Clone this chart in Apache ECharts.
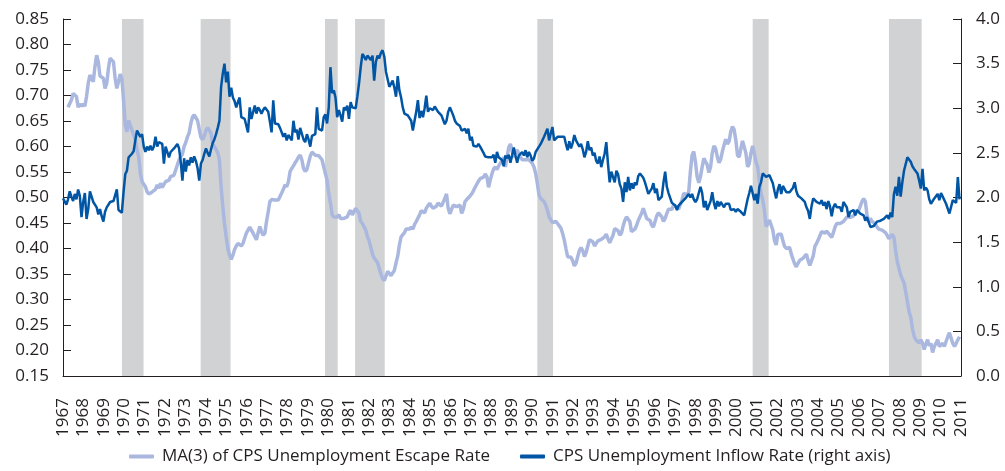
<!DOCTYPE html>
<html>
<head>
<meta charset="utf-8">
<script src="https://cdn.jsdelivr.net/npm/echarts@6/dist/echarts.min.js"></script>
<style>
html,body{margin:0;padding:0;background:#fff;}
#chart{width:1005px;height:471px;}
</style>
</head>
<body>
<div id="chart"></div>
<script>
// Year tick labels (category labels along the bottom)
const yearLabels = ['1967','1968','1969','1970','1971','1972','1973','1974','1975','1976','1977','1978','1979','1980','1981','1982','1983','1984','1985','1986','1987','1988','1989','1990','1991','1992','1993','1994','1995','1996','1997','1998','1999','2000','2001','2002','2003','2004','2005','2006','2007','2008','2009','2010','2011'];

// Monthly series; dark starts Jan 1967, light (3-month MA) starts Apr 1967
const startYear = 1967;
const escapeStartMonth = 3;
const inflowStartMonth = 0;

const escapeRateMA3 = [
0.677,0.678,0.691,0.704,0.707,0.698,0.677,0.683,0.679,0.683,
0.679,0.698,0.724,0.740,0.742,0.727,0.757,0.779,0.766,0.738,
0.740,0.734,0.714,0.724,0.753,0.773,0.770,0.766,0.734,0.714,
0.727,0.742,0.734,0.691,0.642,0.629,0.651,0.649,0.632,0.623,
0.613,0.593,0.580,0.547,0.531,0.528,0.521,0.511,0.507,0.505,
0.511,0.508,0.516,0.525,0.518,0.528,0.520,0.523,0.531,0.529,
0.534,0.541,0.541,0.544,0.554,0.564,
0.574,0.580,0.585,0.600,0.608,0.619,0.627,0.645,0.658,0.662,
0.660,0.651,0.634,0.618,0.613,0.621,0.631,0.637,0.638,0.626,
0.605,0.600,0.598,0.588,0.574,0.521,0.482,0.449,0.423,0.400,
0.387,0.379,0.387,0.398,0.405,0.410,0.407,0.405,0.410,0.420,
0.430,0.436,0.442,0.443,0.430,0.433,0.417,0.431,0.443,0.433,
0.426,0.430,0.453,0.472,0.492,0.496,0.494,0.495,0.498,0.495,
0.502,0.509,0.516,0.525,0.521,0.531,0.551,0.557,0.562,
0.568,0.573,0.579,0.583,0.574,0.557,0.551,0.555,0.568,0.581,
0.589,0.588,0.583,0.583,0.582,0.580,0.574,0.560,0.547,0.534,
0.508,0.489,0.466,0.462,0.464,0.462,0.466,0.459,0.456,0.459,
0.459,0.462,0.470,0.475,0.466,0.472,0.479,0.479,0.469,0.453,
0.449,0.448,0.436,0.423,0.415,0.402,0.389,0.381,0.377,0.372,
0.361,0.350,0.341,0.337,0.346,0.355,0.357,0.347,0.347,0.357,
0.372,0.385,0.407,0.423,0.426,0.431,0.438,0.440,
0.438,0.442,0.438,0.447,0.453,0.455,0.466,0.474,0.474,0.470,
0.479,0.482,0.489,0.483,0.479,0.482,0.483,0.489,0.491,0.483,
0.483,0.498,0.507,0.479,0.468,0.469,0.485,0.487,0.482,0.483,
0.485,0.469,0.477,0.492,0.496,0.498,0.503,0.507,0.513,0.520,
0.526,0.532,0.537,0.534,0.540,0.546,0.541,0.520,0.534,0.546,
0.556,0.560,0.555,0.562,0.567,0.572,0.579,0.560,0.580,0.598,
0.605,0.592,0.579,0.589,0.593,0.590,0.579,0.574,
0.574,0.574,0.575,0.574,0.572,0.567,0.560,0.547,0.528,0.505,
0.498,0.495,0.492,0.485,0.475,0.462,0.456,0.451,0.453,0.453,
0.449,0.446,0.440,0.430,0.417,0.400,0.384,0.384,0.383,0.376,
0.366,0.371,0.384,0.396,0.402,0.396,0.384,0.392,0.405,0.417,
0.419,0.413,0.405,0.410,0.415,0.417,0.418,0.417,0.423,0.428,
0.419,0.411,0.410,0.426,0.439,0.442,0.435,0.426,0.430,0.444,
0.455,0.462,0.461,0.453,0.433,0.431,0.438,0.445,0.455,
0.457,0.469,0.479,0.469,0.459,0.458,0.455,0.446,0.442,0.453,
0.464,0.470,0.470,0.462,0.453,0.459,0.469,0.477,0.477,0.477,
0.485,0.486,0.481,0.477,0.479,0.495,0.508,0.511,0.505,0.511,
0.551,0.583,0.590,0.570,0.541,0.529,0.541,0.560,0.577,0.577,
0.564,0.549,0.560,0.587,0.601,0.596,0.580,0.568,0.575,0.590,
0.603,0.614,0.605,0.610,0.629,0.639,0.633,0.613,0.583,0.579,
0.596,0.611,0.608,0.587,0.560,0.566,0.587,0.601,
0.587,0.570,0.560,0.534,0.508,0.495,0.475,0.443,0.449,0.456,
0.455,0.436,0.415,0.407,0.428,0.426,0.428,0.415,0.404,0.400,
0.400,0.402,0.389,0.379,0.370,0.364,0.371,0.377,0.374,0.381,
0.384,0.389,0.376,0.367,0.364,0.385,0.404,0.410,0.417,0.425,
0.433,0.436,0.430,0.434,0.435,0.426,0.422,0.431,0.442,0.449,
0.451,0.449,0.446,0.453,0.457,0.462,0.464,0.461,0.459,0.464,
0.469,0.469,0.474,0.483,0.492,0.498,0.492,0.466,0.451,
0.459,0.453,0.453,0.448,0.442,0.438,0.439,0.436,0.435,0.431,
0.426,0.419,0.419,0.428,0.422,0.396,0.374,0.361,0.348,0.340,
0.333,0.315,0.296,0.276,0.265,0.243,0.228,0.221,0.221,0.215,
0.221,0.214,0.202,0.213,0.221,0.209,0.214,0.196,0.208,0.214,
0.221,0.208,0.208,0.214,0.208,0.209,0.227,0.235,0.232,0.214,
0.208,0.214,0.221,0.227
];

const inflowRate = [
1.99,1.97,1.92,1.98,2.07,2.01,1.96,2.04,1.98,2.09,
2.02,1.78,1.95,2.05,1.76,1.87,2.07,2.01,1.95,1.97,
1.89,1.81,1.87,1.79,1.73,1.84,1.89,1.91,1.95,1.93,
1.96,1.94,2.09,1.86,1.84,1.83,2.06,2.26,2.30,2.45,
2.47,2.49,2.52,2.64,2.75,2.73,2.68,2.71,2.57,2.51,
2.57,2.53,2.58,2.53,2.57,2.68,2.57,2.62,2.60,2.60,
2.38,2.57,2.51,2.45,2.51,2.49,2.55,2.53,2.60,
2.55,2.40,2.19,2.44,2.29,2.42,2.36,2.45,2.39,2.46,
2.41,2.33,2.19,2.38,2.42,2.49,2.55,2.50,2.46,2.54,
2.61,2.65,2.71,2.78,2.86,3.24,3.39,3.50,3.29,3.41,
3.13,3.23,3.12,3.08,3.01,3.07,3.12,2.90,2.92,2.88,
2.90,2.73,3.01,2.88,2.86,3.03,2.94,3.01,2.98,2.94,
2.98,3.01,3.02,2.96,2.85,2.73,3.09,2.83,2.85,2.82,
2.78,2.76,2.68,2.72,2.64,2.70,2.70,2.64,2.86,
2.73,2.76,2.65,2.78,2.76,2.65,2.62,2.71,2.65,2.57,
2.69,2.68,2.71,3.01,2.77,2.77,2.75,2.90,2.93,2.83,
3.01,3.46,3.17,3.20,3.12,2.90,2.98,2.92,2.85,3.01,
2.98,3.03,2.88,3.07,3.01,3.02,3.00,3.13,3.28,3.46,
3.61,3.58,3.54,3.59,3.61,3.54,3.59,3.31,3.52,3.59,
3.56,3.62,3.65,3.58,3.41,3.42,3.24,3.22,3.31,3.23,
3.13,3.36,3.20,3.12,3.01,2.94,2.92,2.92,
2.93,2.86,2.75,2.86,2.96,3.09,2.89,2.97,2.90,3.00,
3.14,2.96,3.00,2.98,2.98,3.02,3.02,2.96,2.97,2.92,
2.90,2.82,2.86,2.96,3.01,3.00,2.92,2.86,2.83,2.82,
2.80,2.75,2.75,2.77,2.72,2.77,2.64,2.68,2.58,2.60,
2.57,2.60,2.57,2.55,2.50,2.46,2.44,2.45,2.44,2.45,
2.48,2.39,2.51,2.45,2.46,2.42,2.35,2.47,2.44,2.48,
2.39,2.47,2.56,2.47,2.39,2.47,2.49,2.51,
2.47,2.53,2.45,2.51,2.47,2.41,2.44,2.51,2.53,2.57,
2.60,2.64,2.68,2.66,2.77,2.64,2.72,2.79,2.64,2.66,
2.68,2.70,2.68,2.70,2.68,2.60,2.53,2.63,2.55,2.61,
2.70,2.64,2.62,2.57,2.60,2.54,2.45,2.51,2.63,2.53,
2.56,2.47,2.50,2.41,2.38,2.46,2.34,2.42,2.49,2.62,
2.38,2.17,2.29,2.27,2.17,2.30,2.26,2.15,2.10,1.95,
2.17,2.06,2.23,2.08,2.16,2.10,2.17,2.14,2.24,
2.27,2.27,2.22,2.17,2.16,2.04,2.04,2.10,2.16,2.05,
2.10,1.97,1.96,2.01,2.17,2.29,2.12,2.05,2.04,1.94,
1.95,1.91,1.86,1.91,1.91,1.95,1.97,1.99,1.99,2.04,
2.00,2.04,1.98,1.95,1.98,1.96,2.12,2.05,1.89,1.96,
1.86,1.86,1.96,2.06,1.94,1.87,1.96,1.90,1.95,1.92,
1.89,1.93,1.95,1.93,1.86,1.84,1.87,1.84,1.87,1.86,
1.84,1.82,1.80,1.82,1.98,2.05,2.13,2.05,
1.97,2.04,1.93,2.12,2.17,2.27,2.27,2.23,2.25,2.25,
2.27,2.16,2.07,1.99,2.09,2.15,2.04,2.13,2.15,2.06,
2.06,2.06,2.04,2.11,2.17,2.07,2.02,2.01,1.99,1.97,
1.95,1.89,1.85,1.76,1.90,1.99,2.01,1.95,1.97,1.93,
1.97,1.91,1.95,1.87,1.96,1.90,1.79,1.89,1.93,1.89,
1.91,1.89,1.84,1.95,1.97,1.89,1.78,1.84,1.82,1.86,
1.80,1.86,1.87,1.82,1.80,1.80,1.74,1.78,1.76,
1.67,1.65,1.68,1.70,1.73,1.71,1.74,1.74,1.76,1.77,
1.80,1.76,1.83,1.78,2.04,2.12,2.02,2.23,2.01,2.17,
2.30,2.30,2.45,2.45,2.40,2.35,2.32,2.30,2.27,2.19,
2.10,2.32,2.08,2.11,2.08,1.98,1.93,1.93,1.99,2.01,
2.04,1.97,2.05,2.01,2.02,1.93,1.92,1.82,1.82,1.97,
1.97,1.94,2.23,1.98
];

// Recession periods (decimal years)
const recessionStarts = [1969.92, 1973.82, 1979.98, 1981.47, 1990.50, 2001.17, 2007.92];
const recessionEnds   = [1970.99, 1975.30, 1980.61, 1982.94, 1991.28, 2001.96, 2009.54];

const escapeName = 'MA(3) of CPS Unemployment Escape Rate';
const inflowName = 'CPS Unemployment Inflow Rate (right axis)';

const toPairs = (arr, start) => arr.map((v, i) => [startYear + (start + i) / 12, v]);

const textColor = '#231f20';
const font = 'Open Sans';
const lightColor = '#aab8e0';
const darkColor = '#0055a5';

const chart = echarts.init(document.getElementById('chart'), null, {renderer: 'canvas'});
chart.setOption({
  animation: false,
  backgroundColor: '#ffffff',
  grid: {left: 63, right: 44, top: 19, bottom: 95, containLabel: false},
  legend: {
    data: [
      {name: escapeName, icon: 'roundRect', itemStyle: {color: lightColor}},
      {name: inflowName, icon: 'roundRect', itemStyle: {color: darkColor}}
    ],
    bottom: 1,
    left: 124,
    itemWidth: 25,
    itemHeight: 4,
    itemGap: 30,
    textStyle: {fontFamily: font, fontSize: 17, color: textColor, padding: [0, 0, 0, 3]}
  },
  xAxis: [
    {
      type: 'value', min: 1967, max: 2011.49, show: false
    },
    {
      type: 'category', data: yearLabels, boundaryGap: false, position: 'bottom',
      axisLine: {show: true, lineStyle: {color: '#231f20', width: 1}},
      axisTick: {show: false},
      splitLine: {show: false},
      axisLabel: {interval: 0, rotate: 90, margin: 22, fontFamily: font, fontSize: 17, color: textColor}
    }
  ],
  yAxis: [
    {
      type: 'value', min: 0.15, max: 0.85, interval: 0.05, position: 'left',
      axisLine: {show: true, lineStyle: {color: '#231f20', width: 1}},
      axisTick: {show: true, inside: true, length: 8, lineStyle: {color: '#231f20'}},
      splitLine: {show: false},
      axisLabel: {margin: 14, fontFamily: font, fontSize: 17, color: textColor, formatter: v => v.toFixed(2)}
    },
    {
      type: 'value', min: 0, max: 4, interval: 0.5, position: 'right',
      axisLine: {show: true, lineStyle: {color: '#231f20', width: 1}},
      axisTick: {show: true, inside: true, length: 8, lineStyle: {color: '#231f20'}},
      splitLine: {show: false},
      axisLabel: {margin: 15, fontFamily: font, fontSize: 17, color: textColor, formatter: v => v.toFixed(1)}
    }
  ],
  series: [
    {
      name: 'recessions', type: 'line', xAxisIndex: 0, yAxisIndex: 0, data: [], z: 1, silent: true,
      markArea: {
        silent: true,
        itemStyle: {color: '#d1d2d4'},
        data: recessionStarts.map((s, i) => [{xAxis: s}, {xAxis: recessionEnds[i]}])
      }
    },
    {
      name: escapeName, type: 'line', xAxisIndex: 0, yAxisIndex: 0, z: 3,
      data: toPairs(escapeRateMA3, escapeStartMonth),
      symbol: 'none', showSymbol: false,
      lineStyle: {color: lightColor, width: 3.5},
      itemStyle: {color: lightColor}
    },
    {
      name: inflowName, type: 'line', xAxisIndex: 0, yAxisIndex: 1, z: 4,
      data: toPairs(inflowRate, inflowStartMonth),
      symbol: 'none', showSymbol: false,
      lineStyle: {color: darkColor, width: 2.5},
      itemStyle: {color: darkColor}
    }
  ]
});
</script>
</body>
</html>
